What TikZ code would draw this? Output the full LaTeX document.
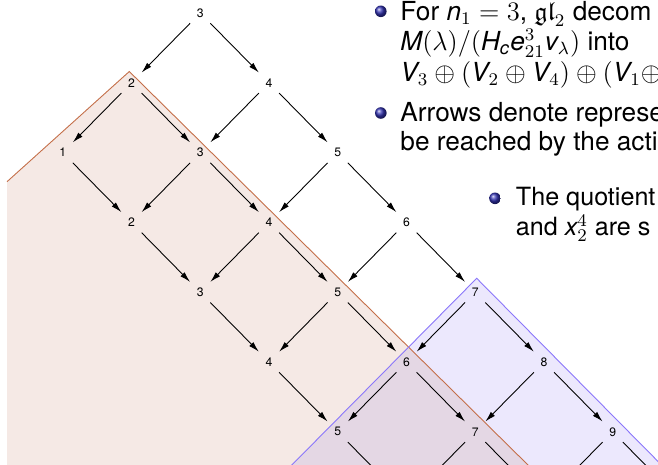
\documentclass[tikz,border=0pt]{standalone}
\usepackage{amsmath}
\usepackage{amssymb}
\usepackage{fontspec}
\setmainfont{TeX Gyre Heros}
\usepackage{tikz}
\usetikzlibrary{arrows.meta}
\definecolor{vermafill}{RGB}{245,233,229}
\definecolor{vermaedge}{RGB}{196,110,72}
\definecolor{quotfill}{RGB}{236,232,253}
\definecolor{quotedge}{RGB}{138,118,250}
\definecolor{bothfill}{RGB}{228,215,228}
\definecolor{ballblue}{RGB}{51,51,178}
\tikzstyle{weight}=[circle,inner sep=0pt,minimum size=12.6pt,font=\fontsize{5.5}{6}\selectfont]
\tikzstyle{slidetext}=[anchor=base west,inner sep=0pt,text height=8pt,text depth=2.5pt,font=\fontsize{11.8}{13.6}\selectfont]
\tikzstyle{subtext}=[slidetext,font=\fontsize{11.3}{13.6}\selectfont]
\newcommand{\mi}[1]{\text{\itshape #1}}

\begin{document}
\begin{tikzpicture}[x=0.45pt,y=-0.45pt,>={Latex[length=4.8pt,width=2.6pt]}]
    \useasboundingbox (0,0) rectangle (658,464);
    \clip (0,0) rectangle (658,464);

    \fill[vermafill] (129.3,71.5) -- (7,181.7) -- (7,480) -- (543.2,480) -- cycle;
    \fill[quotfill] (476.7,278.3) -- (277,480) -- (676.4,480) -- cycle;
    \begin{scope}
        \clip (129.3,71.5) -- (7,181.7) -- (7,480) -- (543.2,480) -- cycle;
        \fill[bothfill] (476.7,278.3) -- (277,480) -- (676.4,480) -- cycle;
    \end{scope}
    \draw[vermaedge] (7,181.7) -- (129.3,71.5) -- (543.2,480);
    \draw[quotedge] (277,480) -- (476.7,278.3) -- (676.4,480);

    \node[weight] (w03) at (200.2,13) {3};
    \node[weight] (w12) at (131.5,82.8) {2};
    \node[weight] (w14) at (269,82.8) {4};
    \node[weight] (w21) at (62.7,152.6) {1};
    \node[weight] (w23) at (200.2,152.6) {3};
    \node[weight] (w25) at (337.7,152.6) {5};
    \node[weight] (w32) at (131.5,222.4) {2};
    \node[weight] (w34) at (269,222.4) {4};
    \node[weight] (w36) at (406.5,222.4) {6};
    \node[weight] (w43) at (200.2,292.2) {3};
    \node[weight] (w45) at (337.7,292.2) {5};
    \node[weight] (w47) at (475.2,292.2) {7};
    \node[weight] (w54) at (269,362) {4};
    \node[weight] (w56) at (406.5,362) {6};
    \node[weight] (w58) at (544,362) {8};
    \node[weight] (w65) at (337.7,431.8) {5};
    \node[weight] (w67) at (475.2,431.8) {7};
    \node[weight] (w69) at (612.7,431.8) {9};
    \coordinate (w76) at (406.5,501.6);
    \coordinate (w78) at (544,501.6);
    \coordinate (w710) at (681.5,501.6);

    \draw[->] (w03) -- (w12);
    \draw[->] (w03) -- (w14);
    \draw[->] (w12) -- (w21);
    \draw[->] (w12) -- (w23);
    \draw[->] (w14) -- (w23);
    \draw[->] (w14) -- (w25);
    \draw[->] (w21) -- (w32);
    \draw[->] (w23) -- (w32);
    \draw[->] (w23) -- (w34);
    \draw[->] (w25) -- (w34);
    \draw[->] (w25) -- (w36);
    \draw[->] (w32) -- (w43);
    \draw[->] (w34) -- (w43);
    \draw[->] (w34) -- (w45);
    \draw[->] (w36) -- (w45);
    \draw[->] (w36) -- (w47);
    \draw[->] (w43) -- (w54);
    \draw[->] (w45) -- (w54);
    \draw[->] (w45) -- (w56);
    \draw[->] (w47) -- (w56);
    \draw[->] (w47) -- (w58);
    \draw[->] (w54) -- (w65);
    \draw[->] (w56) -- (w65);
    \draw[->] (w56) -- (w67);
    \draw[->] (w58) -- (w67);
    \draw[->] (w58) -- (w69);
    \draw[->] (w65) -- (w76);
    \draw[->] (w67) -- (w76);
    \draw[->] (w67) -- (w78);
    \draw[->] (w69) -- (w78);
    \draw[->] (w69) -- (w710);

    \shade[ball color=ballblue] (380.8,11.3) circle (5.8);
    \node[slidetext] (t1) at (400,20) {For $\mi{n}_1 = 3$, $\mathfrak{gl}_2$ decom};
    \node[slidetext] (t2) at (400,50.5) {$\mi{M}(\lambda)/(\mi{H}_{\mi{c}}\mi{e}_{21}^{3}\mi{v}_{\lambda})$ into};
    \node[slidetext] (t3) at (400,81) {$\mi{V}_3 \oplus (\mi{V}_2 \oplus \mi{V}_4) \oplus (\mi{V}_1 \oplus$};
    \shade[ball color=ballblue] (380.8,113) circle (5.8);
    \node[slidetext] (t4) at (400,121.5) {Arrows denote represe};
    \node[slidetext] (t5) at (400,150.5) {be reached by the acti};
    \shade[ball color=ballblue] (495,198.3) circle (5.8);
    \node[subtext] (t6) at (515.5,205.5) {The quotient};
    \node[subtext] (t7) at (515.5,235) {and $\mi{x}_2^4$ are s};
\end{tikzpicture}
\end{document}
